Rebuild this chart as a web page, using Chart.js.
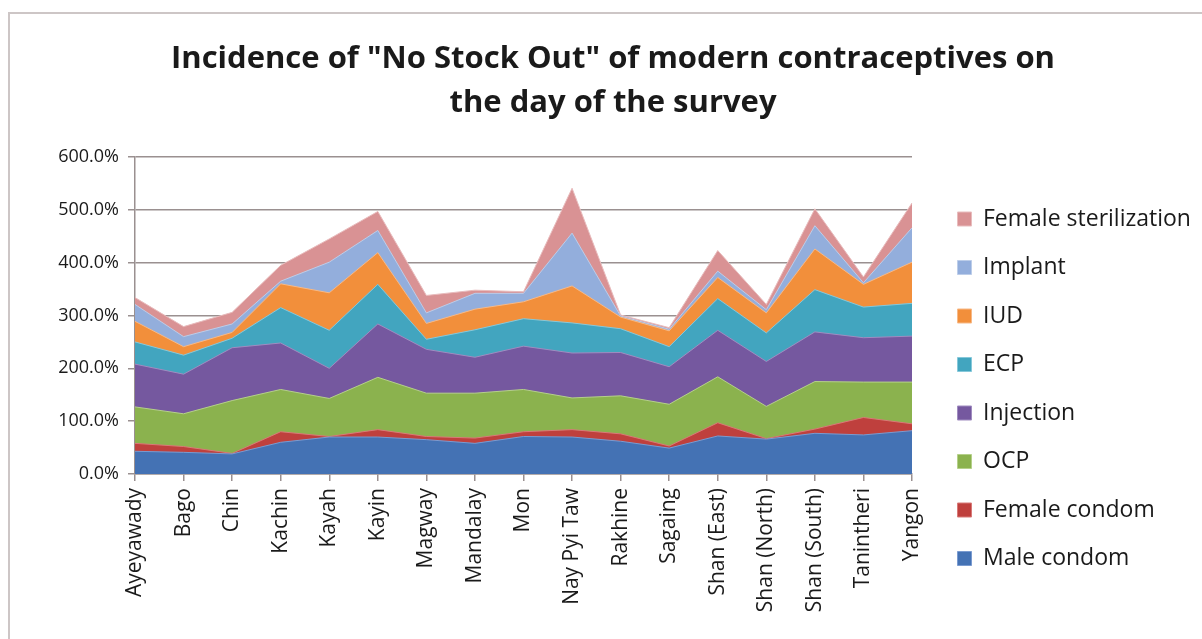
<!DOCTYPE html>
<html>
<head>
<meta charset="utf-8">
<script src="https://cdn.jsdelivr.net/npm/chart.js@4.4.0/dist/chart.umd.min.js"></script>
<style>
  html, body { margin: 0; padding: 0; background: #fff; overflow: hidden; }
  #frame { position: absolute; left: 8px; top: 12px; width: 1208px; height: 644px;
           border: 2px solid #cdc6c6; box-sizing: border-box; }
  #wrap { position: absolute; left: 0; top: 0; width: 1204px; height: 640px; }
</style>
</head>
<body>
<div id="frame"><div id="wrap"><canvas id="c"></canvas></div></div>
<script>
const categories = ["Ayeyawady","Bago","Chin","Kachin","Kayah","Kayin","Magway","Mandalay","Mon","Nay Pyi Taw","Rakhine","Sagaing","Shan (East)","Shan (North)","Shan (South)","Tanintheri","Yangon"];
const maleCondom    = [43, 41, 38, 60, 70, 70, 65, 58, 71, 70, 62, 49, 72, 66, 77, 74, 82];
const femaleCondom  = [15, 11, 1, 20, 1, 14, 6, 10, 9, 14, 14, 4, 25, 1, 8, 33, 13];
const ocp           = [69, 62, 100, 80, 72, 99, 82, 85, 80, 60, 72, 79, 87, 61, 90, 67, 79];
const injection     = [81, 75, 100, 88, 57, 101, 83, 68, 82, 85, 82, 71, 88, 85, 94, 84, 87];
const ecp           = [42, 36, 18, 67, 72, 75, 19, 52, 52, 57, 45, 38, 60, 54, 80, 58, 62];
const iud           = [39, 16, 11, 45, 71, 60, 30, 39, 32, 70, 22, 30, 40, 38, 77, 43, 78];
const implant       = [32, 19, 16, 5, 58, 42, 20, 30, 16, 100, 2, 3, 12, 6, 44, 3, 65];
const femaleSter    = [13, 19, 22, 30, 44, 36, 33, 6, 3, 85, 2, 3, 39, 10, 32, 11, 47];
const yTicks = [0, 100, 200, 300, 400, 500, 600];

const FONT = "'Open Sans', 'Liberation Sans', sans-serif";

function ds(label, data, color, border) {
  return { label, data, backgroundColor: color, borderColor: border, borderWidth: 1,
           fill: true, pointRadius: 0, tension: 0 };
}

const legendPlacer = {
  id: 'legendPlacer',
  afterLayout(chart) {
    const lg = chart.legend;
    if (!lg) return;
    lg.left = 922; lg.right = 1204;
    lg.top = 168; lg.bottom = 640;
  }
};

new Chart(document.getElementById('c'), {
  type: 'line',
  data: {
    labels: categories,
    datasets: [
      ds('Male condom', maleCondom, '#4472b4', '#7a9bd0'),
      ds('Female condom', femaleCondom, '#bf403d', '#d87a78'),
      ds('OCP', ocp, '#8bb24e', '#b5d08a'),
      ds('Injection', injection, '#75589f', '#a08cc0'),
      ds('ECP', ecp, '#42a5bf', '#86c8da'),
      ds('IUD', iud, '#f28f3b', '#f7b987'),
      ds('Implant', implant, '#93aedc', '#bccde9'),
      ds('Female sterilization', femaleSter, '#d99294', '#e8bcbd')
    ]
  },
  plugins: [legendPlacer],
  options: {
    responsive: true,
    maintainAspectRatio: false,
    animation: false,
    layout: { padding: { left: 45, right: 43, top: 23, bottom: 10 } },
    plugins: {
      title: {
        display: true,
        text: ['Incidence of "No Stock Out" of modern contraceptives on', 'the day of the survey'],
        font: { family: FONT, size: 31, weight: 'bold', lineHeight: 1.42 },
        color: '#1a1a1a',
        padding: { top: 0, bottom: 32 }
      },
      legend: {
        position: 'right',
        reverse: true,
        align: 'start',
        maxWidth: 259,
        labels: {
          font: { family: FONT, size: 23 },
          color: '#1a1a1a',
          boxWidth: 14, boxHeight: 14,
          padding: 25.5
        }
      },
      tooltip: { enabled: false }
    },
    scales: {
      x: {
        offset: false,
        afterFit: (axis) => { axis.height = 170; },
        grid: { drawOnChartArea: false, drawTicks: true, tickLength: 7, color: '#9a9090', lineWidth: 1.5 },
        border: { color: '#9a9090', width: 1.5 },
        ticks: { font: { family: FONT, size: 21 }, color: '#1a1a1a', minRotation: 90, maxRotation: 90, padding: 7, autoSkip: false }
      },
      y: {
        stacked: true,
        min: 0, max: 600,
        afterFit: (axis) => { axis.width = 80; },
        afterBuildTicks: (axis) => { axis.ticks = yTicks.map(v => ({ value: v })); },
        grid: { color: '#9a9090', lineWidth: 1.5, tickLength: 7 },
        border: { color: '#9a9090', width: 1.5 },
        ticks: { font: { family: FONT, size: 18 }, color: '#1a1a1a', padding: 9,
                 callback: (v) => v.toFixed(1) + '%' }
      }
    }
  }
});
</script>
</body>
</html>
